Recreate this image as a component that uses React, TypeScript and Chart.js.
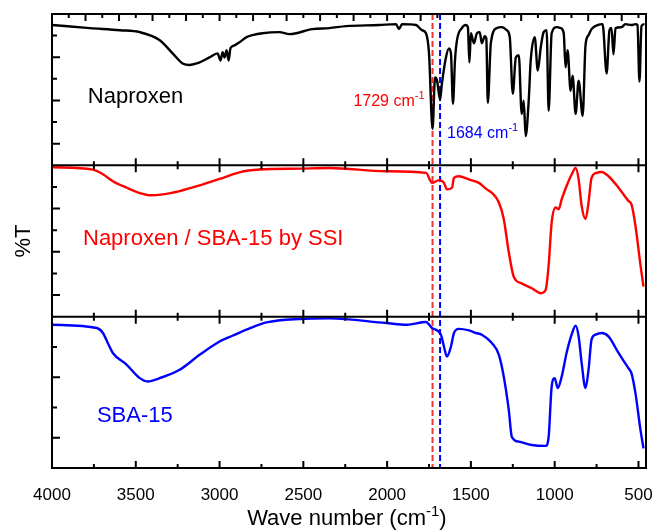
import React, { useEffect, useRef } from 'react';
import { Chart, registerables } from 'chart.js';

Chart.register(...registerables);

const FONT = '"Liberation Sans", Arial, Helvetica, sans-serif';

// x axis (wave number, cm-1), reversed
const xTickLabels = [4000, 3500, 3000, 2500, 2000, 1500, 1000, 500];
const xMin = 455;
const xMax = 4000;

// Naproxen (top panel), %T scaled within its panel (0-100)
const naproxenWn = [
  4000, 3774, 3595, 3476, 3357, 3280, 3220, 3179, 3137, 3060,
  3012, 2994, 2982, 2970, 2958, 2946, 2935, 2911, 2881, 2839,
  2804, 2744, 2643, 2583, 2446, 2345, 2244, 2048, 1947, 1929,
  1911, 1827, 1792, 1768, 1750, 1729, 1714, 1702, 1684, 1673,
  1649, 1631, 1619, 1607, 1595, 1583, 1554, 1530, 1518, 1509,
  1500, 1482, 1464, 1447, 1435, 1417, 1408, 1399, 1381, 1345,
  1316, 1286, 1268, 1250, 1232, 1214, 1197, 1185, 1173, 1155,
  1143, 1119, 1101, 1083, 1066, 1048, 1036, 1018, 988, 964,
  946, 935, 923, 905, 893, 875, 857, 833, 816, 798,
  780, 744, 714, 690, 673, 661, 649, 637, 601, 578,
  542, 518, 506, 494, 482, 464,
];
const naproxenT = [
  92.7, 90.7, 89.3, 88, 82.7, 74, 67.3, 66.3, 67.3, 71.3,
  74, 69.3, 74.7, 71.3, 76, 69.3, 77.3, 79.3, 81.3, 84.7,
  86, 87.3, 88, 86.7, 90, 90.7, 92, 92.7, 93.3, 90,
  93.3, 92.7, 89.3, 87.3, 74, 24, 58, 56, 43.3, 54,
  71.3, 77.3, 74, 40.7, 69.3, 82.7, 90.7, 92.7, 91.3, 68,
  87.3, 80.7, 87.3, 88, 80.7, 85.3, 84, 41.3, 80.7, 90.7,
  91.3, 89.3, 84.7, 47.3, 71.3, 72.7, 34, 42.7, 19.3, 42.7,
  69.3, 84.7, 62.7, 78, 88, 89.3, 36, 87.3, 91.3, 90.7,
  87.3, 64.7, 76, 49.3, 59.3, 34, 56, 32.7, 79.3, 86,
  90, 92.7, 93.3, 60.7, 89.3, 90.7, 73.3, 90.7, 91.3, 93.3,
  92.7, 93.3, 92.7, 55.3, 92, 93.3,
];

// Naproxen / SBA-15 by SSI (middle panel)
const ssiWn = [
  4000, 3756, 3696, 3637, 3554, 3476, 3417, 3339, 3238, 3119,
  3000, 2881, 2762, 2524, 2345, 2006, 1768, 1732, 1690, 1661,
  1643, 1613, 1601, 1572, 1512, 1452, 1405, 1375, 1333, 1304,
  1274, 1244, 1197, 1137, 1083, 1054, 1036, 1018, 994, 976,
  958, 929, 899, 875, 857, 839, 816, 798, 780, 750,
  720, 679, 619, 560, 542, 518, 488, 470,
];
const ssiT = [
  98.7, 97.2, 94.1, 89.5, 85.2, 81.7, 80.2, 80.8, 83, 86.7,
  91, 95.4, 97.2, 97.8, 98.2, 96.1, 95, 88.4, 90.2, 88.4,
  84.1, 85.2, 91.7, 92.8, 90.7, 88.4, 84.1, 81.9, 75.4, 64.5,
  42.7, 26.3, 22, 18.8, 15.5, 17.6, 34, 62.3, 72.1, 71,
  77.6, 86.3, 93.9, 98.2, 90.7, 73.2, 64.5, 75.4, 91.7, 95,
  95.6, 92.8, 85.2, 76.5, 74.3, 60.1, 34, 19.8,
];

// SBA-15 (bottom panel)
const sbaWn = [
  4000, 3732, 3696, 3667, 3637, 3554, 3476, 3429, 3357, 3238,
  3119, 3000, 2923, 2839, 2720, 2524, 2345, 2006, 1881, 1768,
  1732, 1679, 1661, 1643, 1619, 1601, 1572, 1512, 1470, 1435,
  1375, 1333, 1304, 1274, 1256, 1214, 1137, 1054, 1036, 1018,
  1000, 982, 958, 929, 899, 875, 857, 839, 816, 798,
  780, 756, 720, 679, 619, 560, 542, 518, 488, 470,
];
const sbaT = [
  94.7, 92.5, 89.2, 82.6, 76, 68.2, 59.4, 57.2, 59.4, 64.9,
  74.8, 83.6, 87.4, 91.4, 96.2, 98.5, 98.9, 95.8, 94.7, 96.5,
  92.5, 88.1, 80.3, 73.7, 80.3, 89.2, 91.9, 90.9, 89.2, 88.1,
  82.6, 74.8, 60.5, 38.4, 20.7, 17.4, 15.2, 14.6, 20.7, 53.8,
  59.4, 52.8, 60.5, 76, 88.1, 94, 87, 69.3, 52.8, 64.9,
  84.8, 88.1, 89.2, 87, 76, 66, 62.7, 49.5, 25.2, 13,
];

const seriesNames = ['Naproxen', 'Naproxen / SBA-15 by SSI', 'SBA-15'];
const seriesColors = ['#000000', '#ff0000', '#0000ff'];
const panelOffsets = [200, 100, 0];

// reference lines
const markerWn = [1729, 1684];
const markerLabels = ['1729 cm', '1684 cm'];
const markerColors = ['#f03434', '#0000ff'];

// left-axis tick divisions per panel (bottom, middle, top)
const panelDivisions = [5, 7, 7];

// label anchors (data units: wave number, stacked y)
const nameAnchors = [
  { wn: 3786, y: 241 },
  { wn: 3815, y: 147.4 },
  { wn: 3732, y: 30.6 },
];
const markerAnchors = [
  { dx: -8, y: 239.2, align: 'right' },
  { dx: 7, y: 218.3, align: 'left' },
];

function drawSup(ctx: CanvasRenderingContext2D, base: string, sup: string, tail: string,
  x: number, y: number, size: number, color: string, align: string) {
  const supSize = Math.round(size * 0.66);
  ctx.font = `${size}px ${FONT}`;
  const wb = ctx.measureText(base).width;
  const wt = ctx.measureText(tail).width;
  ctx.font = `${supSize}px ${FONT}`;
  const ws = ctx.measureText(sup).width;
  const total = wb + ws + wt;
  let cx = align === 'left' ? x : align === 'right' ? x - total : x - total / 2;
  ctx.fillStyle = color;
  ctx.textAlign = 'left';
  ctx.textBaseline = 'alphabetic';
  ctx.font = `${size}px ${FONT}`;
  ctx.fillText(base, cx, y);
  cx += wb;
  ctx.font = `${supSize}px ${FONT}`;
  ctx.fillText(sup, cx, y - size * 0.42);
  cx += ws;
  ctx.font = `${size}px ${FONT}`;
  if (tail) ctx.fillText(tail, cx, y);
}

const framePlugin = {
  id: 'framePlugin',
  beforeDatasetsDraw(chart: any) {
    const { ctx, chartArea: a, scales } = chart;
    const x = scales.x;
    markerWn.forEach((wn, i) => {
      const px = x.getPixelForValue(wn);
      ctx.save();
      ctx.strokeStyle = markerColors[i];
      ctx.lineWidth = 2;
      ctx.setLineDash([6, 3]);
      ctx.beginPath();
      ctx.moveTo(px, a.top);
      ctx.lineTo(px, a.bottom);
      ctx.stroke();
      ctx.restore();
    });
  },
  afterDatasetsDraw(chart: any) {
    const { ctx, chartArea: a, scales } = chart;
    const x = scales.x;
    const y = scales.y;
    ctx.save();
    ctx.strokeStyle = '#000';
    ctx.lineWidth = 2;
    ctx.setLineDash([]);
    // frame
    ctx.strokeRect(a.left, a.top, a.right - a.left, a.bottom - a.top);
    // separators
    const seps = [100, 200].map((v) => y.getPixelForValue(v));
    ctx.beginPath();
    seps.forEach((py) => {
      ctx.moveTo(a.left, py);
      ctx.lineTo(a.right, py);
    });
    ctx.stroke();
    ctx.beginPath();
    // top ticks every 100, major every 200
    for (let wn = 4000; wn >= 500; wn -= 100) {
      const px = x.getPixelForValue(wn);
      const len = wn % 200 === 0 ? 7 : 4;
      ctx.moveTo(px, a.top);
      ctx.lineTo(px, a.top + len);
    }
    // bottom + separators ticks every 250, major every 500
    for (let wn = 4000; wn >= 500; wn -= 250) {
      const px = x.getPixelForValue(wn);
      const len = wn % 500 === 0 ? 7 : 4;
      ctx.moveTo(px, a.bottom);
      ctx.lineTo(px, a.bottom - len);
      seps.forEach((py) => {
        ctx.moveTo(px, py - len);
        ctx.lineTo(px, py + len);
      });
    }
    // left ticks
    panelDivisions.forEach((d, p) => {
      for (let k = 1; k < d; k++) {
        const py = y.getPixelForValue(p * 100 + (k * 100) / d);
        const len = k % 2 === 1 ? 8 : 5;
        ctx.moveTo(a.left, py);
        ctx.lineTo(a.left + len, py);
      }
    });
    ctx.stroke();
    ctx.restore();
  },
  afterDraw(chart: any) {
    const { ctx, chartArea: a, scales } = chart;
    const x = scales.x;
    const y = scales.y;
    ctx.save();
    // series names
    seriesNames.forEach((name, i) => {
      ctx.font = `22px ${FONT}`;
      ctx.fillStyle = seriesColors[i];
      ctx.textAlign = 'left';
      ctx.textBaseline = 'alphabetic';
      ctx.fillText(name, x.getPixelForValue(nameAnchors[i].wn), y.getPixelForValue(nameAnchors[i].y));
    });
    // marker labels
    markerWn.forEach((wn, i) => {
      const m = markerAnchors[i];
      drawSup(ctx, markerLabels[i], '-1', '', x.getPixelForValue(wn) + m.dx,
        y.getPixelForValue(m.y), 16, i === 0 ? '#ff0000' : '#0000ff', m.align);
    });
    // x axis title
    drawSup(ctx, 'Wave number (cm', '-1', ')', x.getPixelForValue(2240), a.bottom + 57, 22, '#000', 'center');
    ctx.restore();
  },
};

const seriesWn = [naproxenWn, ssiWn, sbaWn];
const seriesT = [naproxenT, ssiT, sbaT];

export default function App() {
  const ref = useRef<HTMLCanvasElement | null>(null);
  useEffect(() => {
    if (!ref.current) return;
    Chart.defaults.font.family = FONT;
    const datasets = seriesNames.map((name, s) => ({
      label: name,
      data: seriesWn[s].map((wn, i) => ({ x: wn, y: seriesT[s][i] + panelOffsets[s] })),
      borderColor: seriesColors[s],
      borderWidth: 2.4,
      pointRadius: 0,
      fill: false,
      cubicInterpolationMode: 'monotone' as const,
    }));
    const chart = new Chart(ref.current, {
      type: 'line',
      data: { datasets },
      plugins: [framePlugin],
      options: {
        responsive: false,
        animation: false,
        devicePixelRatio: 1,
        layout: { padding: { top: 14, right: 10, left: 0, bottom: 0 } },
        plugins: { legend: { display: false }, tooltip: { enabled: false } },
        scales: {
          x: {
            type: 'linear',
            reverse: true,
            min: xMin,
            max: xMax,
            afterBuildTicks: (s: any) => {
              s.ticks = xTickLabels.map((v) => ({ value: v }));
            },
            afterFit: (s: any) => {
              s.height = 62;
              s.paddingLeft = 0;
              s.paddingRight = 0;
            },
            grid: { display: false },
            border: { display: false },
            ticks: {
              padding: 9,
              autoSkip: false,
              maxRotation: 0,
              color: '#000',
              font: { size: 17, family: FONT },
              callback: (v: any) => String(v),
            },
          },
          y: {
            type: 'linear',
            min: 0,
            max: 300,
            afterFit: (s: any) => {
              s.width = 52;
              s.paddingTop = 0;
              s.paddingBottom = 0;
            },
            grid: { display: false },
            border: { display: false },
            ticks: { display: false },
            title: {
              display: true,
              text: '%T',
              color: '#000',
              font: { size: 22, family: FONT },
              padding: { top: 11, bottom: 0 },
            },
          },
        },
      },
    });
    return () => chart.destroy();
  }, []);
  return (
    <div style={{ position: 'fixed', left: 0, top: 0, width: 656, height: 530 }}>
      <canvas ref={ref} width={656} height={530} style={{ display: 'block', width: 656, height: 530 }} />
    </div>
  );
}
